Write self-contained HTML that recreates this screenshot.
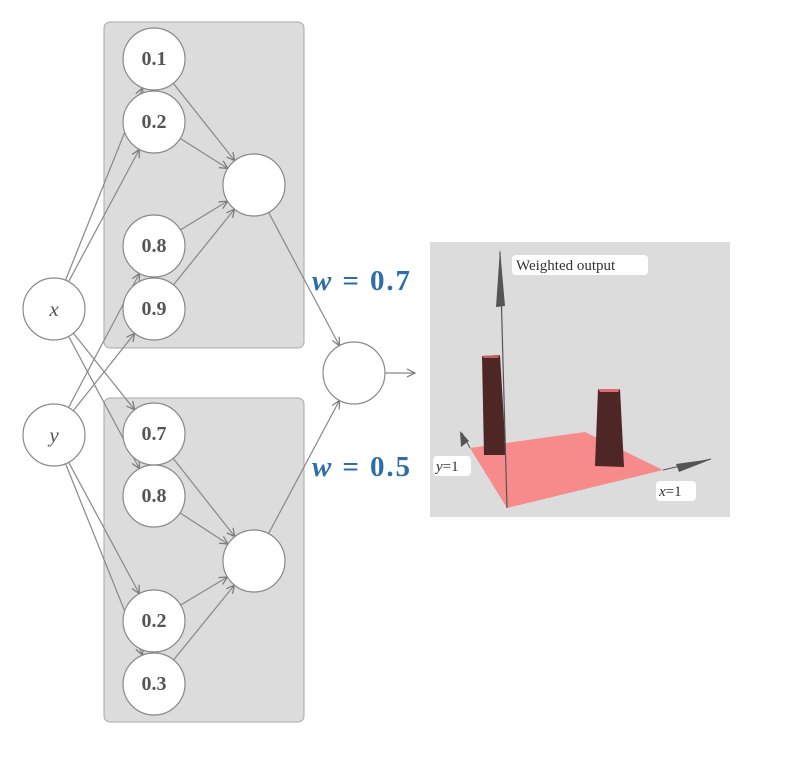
<!DOCTYPE html>
<html><head><style>
body{margin:0;background:#fff;width:795px;height:757px;overflow:hidden}
svg{display:block}
.n{font-family:"Liberation Serif",serif;font-weight:bold;font-size:20px;fill:#555;text-anchor:middle;dominant-baseline:central}
.v{font-family:"Liberation Serif",serif;font-style:italic;font-size:21px;fill:#555;text-anchor:middle;dominant-baseline:central}
.w{font-family:"Liberation Serif",serif;font-size:29px;fill:#2d6ea8;font-weight:bold}
.lab{font-family:"Liberation Serif",serif;font-size:15px;fill:#333}
</style></head><body>
<svg width="795" height="757" viewBox="0 0 795 757">
<defs>
<marker id="a" markerUnits="userSpaceOnUse" markerWidth="80" markerHeight="20" refX="31" refY="0" viewBox="-40 -10 80 20" orient="auto" overflow="visible">
<path d="M-8,-4 L0,0 L-8,4" fill="none" stroke="#777" stroke-width="1.2"/>
</marker>
</defs>
<rect x="104" y="22" width="200" height="326" rx="6" fill="#dcdcdc" stroke="#aaa"/>
<rect x="104" y="398" width="200" height="324" rx="6" fill="#dcdcdc" stroke="#aaa"/>
<g stroke="#888" stroke-width="1.2" marker-end="url(#a)">
<line x1="54" y1="309" x2="154" y2="59"/>
<line x1="54" y1="309" x2="154" y2="122"/>
<line x1="54" y1="309" x2="154" y2="434"/>
<line x1="54" y1="309" x2="154" y2="496"/>
<line x1="54" y1="435" x2="154" y2="246"/>
<line x1="54" y1="435" x2="154" y2="309"/>
<line x1="54" y1="435" x2="154" y2="621"/>
<line x1="54" y1="435" x2="154" y2="684"/>
<line x1="154" y1="59" x2="254" y2="185"/>
<line x1="154" y1="122" x2="254" y2="185"/>
<line x1="154" y1="246" x2="254" y2="185"/>
<line x1="154" y1="309" x2="254" y2="185"/>
<line x1="154" y1="434" x2="254" y2="561"/>
<line x1="154" y1="496" x2="254" y2="561"/>
<line x1="154" y1="621" x2="254" y2="561"/>
<line x1="154" y1="684" x2="254" y2="561"/>
<line x1="254" y1="185" x2="354" y2="373"/>
<line x1="254" y1="561" x2="354" y2="373"/>
</g>
<line x1="385" y1="373" x2="415" y2="373" stroke="#888" stroke-width="1.2"/>
<path d="M407,369 L415,373 L407,377" fill="none" stroke="#777" stroke-width="1.2"/>
<g fill="#fff" stroke="#888" stroke-width="1.2">
<circle cx="154" cy="59" r="31"/><circle cx="154" cy="122" r="31"/>
<circle cx="154" cy="246" r="31"/><circle cx="154" cy="309" r="31"/>
<circle cx="154" cy="434" r="31"/><circle cx="154" cy="496" r="31"/>
<circle cx="154" cy="621" r="31"/><circle cx="154" cy="684" r="31"/>
<circle cx="254" cy="185" r="31"/><circle cx="254" cy="561" r="31"/>
<circle cx="54" cy="309" r="31"/><circle cx="54" cy="435" r="31"/>
<circle cx="354" cy="373" r="31"/>
</g>
<text class="n" x="154" y="59">0.1</text><text class="n" x="154" y="122">0.2</text>
<text class="n" x="154" y="246">0.8</text><text class="n" x="154" y="309">0.9</text>
<text class="n" x="154" y="434">0.7</text><text class="n" x="154" y="496">0.8</text>
<text class="n" x="154" y="621">0.2</text><text class="n" x="154" y="684">0.3</text>
<text class="v" x="54" y="309">x</text><text class="v" x="54" y="435">y</text>
<text class="w" x="312" y="290" textLength="98"><tspan font-style="italic">w</tspan> = 0.7</text>
<text class="w" x="312" y="476" textLength="98"><tspan font-style="italic">w</tspan> = 0.5</text>
<!-- 3D plot -->
<rect x="430" y="242" width="300" height="275" fill="#dcdcdc"/>
<polygon points="470,448 585,432 663,470 507,508" fill="#f78a8a"/>
<polygon points="482,356 500,355 506,455 484,455" fill="#4e2626"/>
<polygon points="482,356 500,355 498,358 484,358" fill="#c06060"/>
<polygon points="598,389 620,389 624,467 595,466" fill="#4e2626"/>
<polygon points="598,389 620,389 618,392 600,392" fill="#e07070"/>
<line x1="507" y1="508" x2="500" y2="252" stroke="#555" stroke-width="1.2"/>
<polygon points="500,249 496,307 505,306" fill="#555"/>
<line x1="470" y1="448" x2="462" y2="433" stroke="#555"/>
<polygon points="460,431 461,447 469,441" fill="#555"/>
<line x1="663" y1="470" x2="711" y2="459" stroke="#555"/>
<polygon points="712,459 676,464 679,472" fill="#555"/>
<rect x="512" y="255" width="136" height="20" rx="4" fill="#fff"/>
<text class="lab" x="516" y="270">Weighted output</text>
<rect x="433" y="456" width="38" height="20" rx="4" fill="#fff"/>
<text class="lab" x="436" y="471"><tspan font-style="italic">y</tspan>=1</text>
<rect x="656" y="481" width="40" height="20" rx="4" fill="#fff"/>
<text class="lab" x="659" y="496"><tspan font-style="italic">x</tspan>=1</text>
</svg>
</body></html>
